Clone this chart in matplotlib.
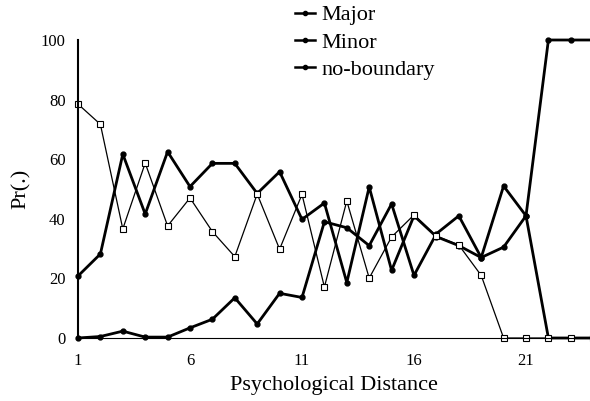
import matplotlib.pyplot as plt
from matplotlib.lines import Line2D

plt.rcParams["font.family"] = ["Liberation Serif", "DejaVu Serif"]

distance = list(range(1, 25))
major = [0, 0.5, 2.3, 0.3, 0.3, 3.4, 6.3, 13.5, 4.7, 15, 13.6, 39, 37, 31, 45,
         21, 35, 41, 27, 51, 41, 100, 100, 100]
minor = [20.8, 28.2, 61.7, 41.6, 62.5, 50.8, 58.6, 58.6, 48.5, 55.8, 39.8, 45.3,
         18.6, 50.7, 22.7, 41, 34, 31, 27, 30.5, 41, 0, 0, 0]
no_boundary = [78.5, 71.7, 36.6, 58.7, 37.6, 47, 35.7, 27.3, 48.3, 29.8, 48.2,
               17.1, 46, 20.1, 33.9, 41.3, 34.2, 31.2, 21, 0, 0, 0, 0, 0]
x_ticks = [1, 6, 11, 16, 21]
y_ticks = [0, 20, 40, 60, 80, 100]

fig = plt.figure(figsize=(5.9, 4.01), dpi=100)
ax = fig.add_axes([78 / 590, 63 / 401, 512 / 590, 298 / 401])

ax.plot(distance, major, color="black", lw=2.0, marker="o", ms=3.5, clip_on=False)
ax.plot(distance, minor, color="black", lw=2.0, marker="o", ms=3.5, clip_on=False)
ax.plot(distance, no_boundary, color="black", lw=0.9, marker="s", ms=4,
        mfc="white", mec="black", mew=0.8, clip_on=False)

ax.set_xlim(1, 1 + 512 / 22.4)
ax.set_ylim(0, 100)
ax.set_xticks(x_ticks)
ax.set_yticks(y_ticks)
ax.tick_params(length=0, labelsize=12)
ax.tick_params(axis="x", pad=11)
ax.tick_params(axis="y", pad=9)
ax.spines["top"].set_visible(False)
ax.spines["right"].set_visible(False)
ax.spines["left"].set_linewidth(1.5)
ax.spines["bottom"].set_linewidth(0.8)
ax.set_xlabel("Psychological Distance", fontsize=16, labelpad=5)
ax.set_ylabel("Pr(.)", fontsize=16, labelpad=7)

handles = [
    Line2D([], [], color="black", lw=1.8, marker="o", ms=3),
    Line2D([], [], color="black", lw=1.8, marker="o", ms=3),
    Line2D([], [], color="black", lw=1.8, marker="o", ms=3),
]
fig.legend(handles, ["Major", "Minor", "no-boundary"], loc="upper left",
           bbox_to_anchor=(286 / 590, 1.01), frameon=False, fontsize=16,
           handlelength=0.9, handletextpad=0.3, labelspacing=0.3,
           borderaxespad=0)

fig.savefig("out.png", dpi=100)
